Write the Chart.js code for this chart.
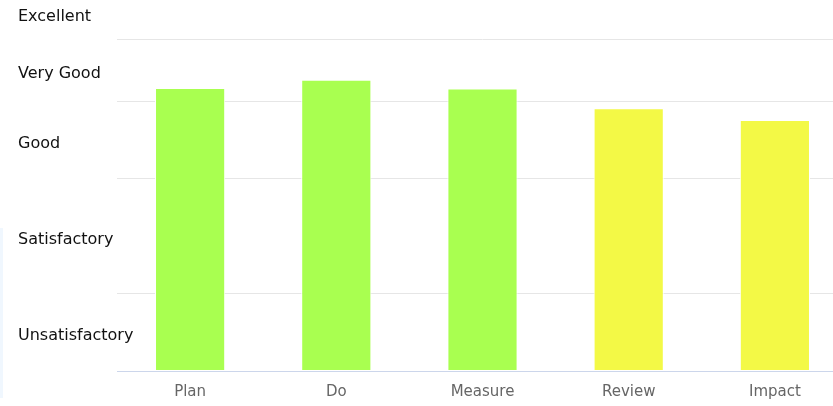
<!DOCTYPE html>
<html>
<head>
<meta charset="utf-8">
<script src="https://cdn.jsdelivr.net/npm/chart.js@4/dist/chart.umd.min.js"></script>
<style>
    html, body { margin: 0; padding: 0; background: #fff; }
    .wrap { position: relative; width: 833px; height: 406px; overflow: hidden; }
    .edge { position: absolute; left: 0; top: 228px; width: 3px; height: 170px; background: #f0f7fe; }
    canvas { display: block; }
</style>
</head>
<body>
<div class="wrap">
    <div class="edge"></div>
    <canvas id="rating" width="848" height="406"></canvas>
</div>
<script>
    const categories = ['Plan', 'Do', 'Measure', 'Review', 'Impact'];
    const scores = [73.4, 75.6, 73.3, 68.2, 65.1];
    const bandLimits = [20, 50, 70, 86];
    const bandLabels = ['Unsatisfactory', 'Satisfactory', 'Good', 'Very Good', 'Excellent'];
    const bandLabelAt = [9, 34, 59, 77, 92];
    const scaleMax = 96;

    function barColor(value) {
        return value >= 70 ? '#a9ff50' : '#f3f946';
    }

    // band labels are left aligned and run past the plot's left edge, so widen their clip box after layout
    const widenLabels = {
        id: 'widenLabels',
        afterLayout(chart) {
            const scale = chart.scales.y;
            scale.right = scale.left + 140;
        },
    };

    new Chart(document.getElementById('rating'), {
        type: 'bar',
        data: {
            labels: categories,
            datasets: [{
                data: scores,
                backgroundColor: scores.map(barColor),
                borderColor: '#ffffff',
                borderWidth: 1,
                borderSkipped: false,
                categoryPercentage: 1,
                barPercentage: 0.48,
            }],
        },
        options: {
            responsive: false,
            animation: false,
            layout: { padding: { left: 18, top: 1, right: 0, bottom: 0 } },
            plugins: { legend: { display: false }, tooltip: { enabled: false } },
            scales: {
                x: {
                    grid: { display: false, drawTicks: false },
                    border: { display: true, color: '#ccd6eb', width: 1 },
                    ticks: { color: '#666666', padding: 12, font: { family: 'DejaVu Sans', size: 15 } },
                    afterFit(scale) { scale.height = 35; },
                },
                y: {
                    min: 0,
                    max: scaleMax,
                    position: 'left',
                    grid: { display: false, drawTicks: false },
                    border: { display: false },
                    afterBuildTicks(scale) { scale.ticks = bandLabelAt.map((value) => ({ value })); },
                    ticks: {
                        color: '#111111',
                        crossAlign: 'far',
                        autoSkip: false,
                        font: { family: 'DejaVu Sans', size: 16 },
                        callback: (value) => bandLabels[bandLabelAt.indexOf(value)],
                    },
                    afterFit(scale) {
                        scale.width = 99;
                        scale.paddingTop = 0;
                        scale.paddingBottom = 0;
                    },
                },
                bands: {
                    min: 0,
                    max: scaleMax,
                    position: 'right',
                    grid: { color: '#e6e6e6', drawTicks: false },
                    border: { display: false },
                    afterBuildTicks(scale) { scale.ticks = bandLimits.map((value) => ({ value })); },
                    ticks: { display: false },
                    afterFit(scale) {
                        scale.width = 0;
                        scale.paddingTop = 0;
                        scale.paddingBottom = 0;
                    },
                },
            },
        },
        plugins: [widenLabels],
    });
</script>
</body>
</html>
